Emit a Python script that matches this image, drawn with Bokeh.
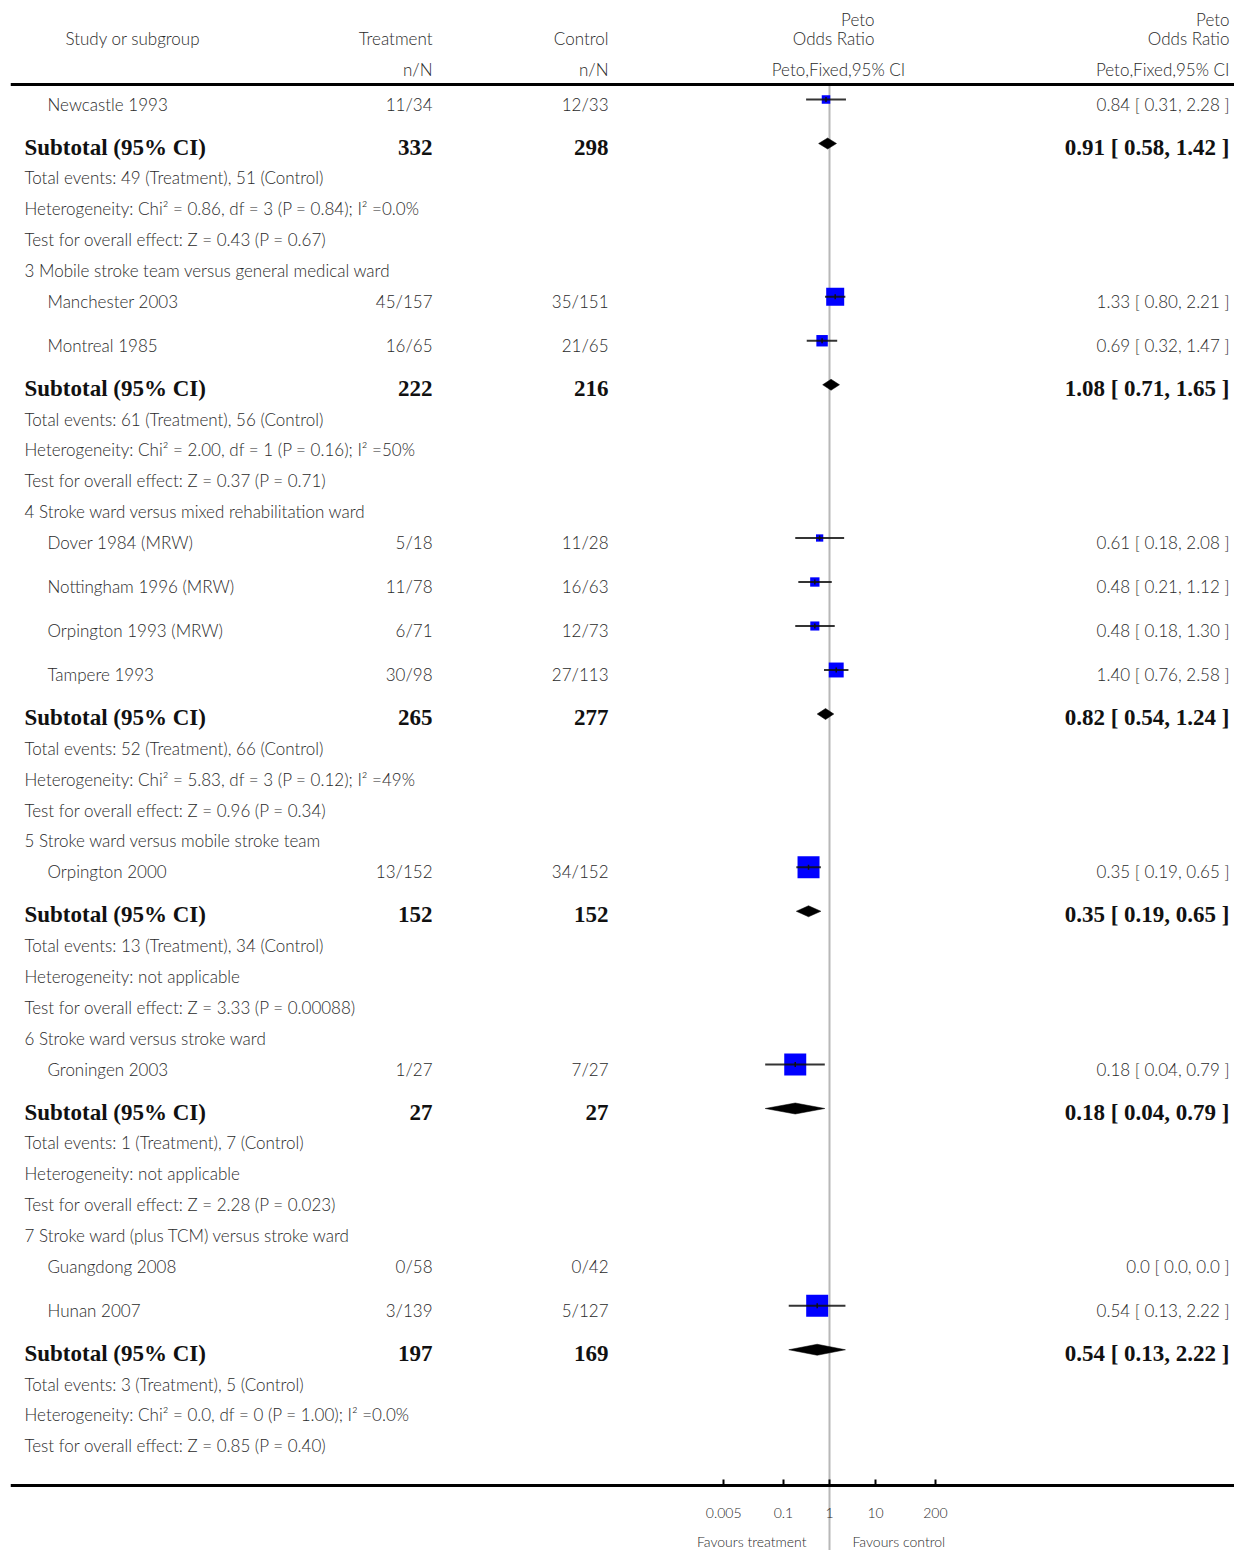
import numpy as np
from bokeh.plotting import figure
from bokeh.models import (Range1d, LogScale, LogAxis, FixedTicker, ColumnDataSource, Span)
from bokeh.core.properties import value
from bokeh.embed import file_html
from bokeh.resources import INLINE

# ---- individual studies -----------------------------------------------------
study_names = ["Newcastle 1993", "Manchester 2003", "Montreal 1985", "Dover 1984 (MRW)",
               "Nottingham 1996 (MRW)", "Orpington 1993 (MRW)", "Tampere 1993",
               "Orpington 2000", "Groningen 2003", "Guangdong 2008", "Hunan 2007"]
study_group = [2, 3, 3, 4, 4, 4, 4, 5, 6, 7, 7]
study_treatment = ["11/34", "45/157", "16/65", "5/18", "11/78", "6/71", "30/98",
                   "13/152", "1/27", "0/58", "3/139"]
study_control = ["12/33", "35/151", "21/65", "11/28", "16/63", "12/73", "27/113",
                 "34/152", "7/27", "0/42", "5/127"]
study_or = [0.84, 1.33, 0.69, 0.61, 0.48, 0.48, 1.40, 0.35, 0.18, 0.0, 0.54]
study_lo = [0.31, 0.80, 0.32, 0.18, 0.21, 0.18, 0.76, 0.19, 0.04, 0.0, 0.13]
study_hi = [2.28, 2.21, 1.47, 2.08, 1.12, 1.30, 2.58, 0.65, 0.79, 0.0, 2.22]
study_weight = [15, 67, 27, 11, 18, 17, 46, 100, 100, 0, 100]   # % within subgroup

# ---- subgroups -----------------------------------------------------------------
group_ids = [2, 3, 4, 5, 6, 7]
group_titles = ["",
                "3 Mobile stroke team versus general medical ward",
                "4 Stroke ward versus mixed rehabilitation ward",
                "5 Stroke ward versus mobile stroke team",
                "6 Stroke ward versus stroke ward",
                "7 Stroke ward (plus TCM) versus stroke ward"]
group_treatment_total = [332, 222, 265, 152, 27, 197]
group_control_total = [298, 216, 277, 152, 27, 169]
group_or = [0.91, 1.08, 0.82, 0.35, 0.18, 0.54]
group_lo = [0.58, 0.71, 0.54, 0.19, 0.04, 0.13]
group_hi = [1.42, 1.65, 1.24, 0.65, 0.79, 2.22]
group_events = ["Total events: 49 (Treatment), 51 (Control)",
                "Total events: 61 (Treatment), 56 (Control)",
                "Total events: 52 (Treatment), 66 (Control)",
                "Total events: 13 (Treatment), 34 (Control)",
                "Total events: 1 (Treatment), 7 (Control)",
                "Total events: 3 (Treatment), 5 (Control)"]
group_heterogeneity = ["Heterogeneity: Chi² = 0.86, df = 3 (P = 0.84); I² =0.0%",
                       "Heterogeneity: Chi² = 2.00, df = 1 (P = 0.16); I² =50%",
                       "Heterogeneity: Chi² = 5.83, df = 3 (P = 0.12); I² =49%",
                       "Heterogeneity: not applicable",
                       "Heterogeneity: not applicable",
                       "Heterogeneity: Chi² = 0.0, df = 0 (P = 1.00); I² =0.0%"]
group_overall = ["Test for overall effect: Z = 0.43 (P = 0.67)",
                 "Test for overall effect: Z = 0.37 (P = 0.71)",
                 "Test for overall effect: Z = 0.96 (P = 0.34)",
                 "Test for overall effect: Z = 3.33 (P = 0.00088)",
                 "Test for overall effect: Z = 2.28 (P = 0.023)",
                 "Test for overall effect: Z = 0.85 (P = 0.40)"]

# ---- axis ----------------------------------------------------------------------
axis_ticks = [0.005, 0.1, 1, 10, 200]
axis_tick_labels = ["0.005", "0.1", "1", "10", "200"]
favours_left, favours_right = "Favours treatment", "Favours control"

# ---- page geometry -------------------------------------------------------------
W, H = 1234, 1550
LEFT = 10
AXIS_Y = 1485
TOP_RULE = 84
REF_PX, DECADE_PX = 829, 46
X_GROUP, X_STUDY, X_TREAT, X_CTRL, X_EST = 24, 47, 432, 608, 1229

BODY_FAMILY = "Lato Light, Lato"
BODY_FONT = value(BODY_FAMILY)
BOLD_FONT = value("Liberation Serif")
BODY_COLOR = "#2a2a2a"
BODY_SHIFT = -0.5      # baseline relative to a row's centre line
BOLD_SHIFT = -0.5


def fmt(v):
    return "0.0" if v == 0 else f"{v:.2f}"


def est_text(o, lo, hi):
    return f"{fmt(o)} [ {fmt(lo)}, {fmt(hi)} ]"


# row sequence
rows = []
for gi, g in enumerate(group_ids):
    if group_titles[gi]:
        rows.append(("heading", gi))
    for si, sg in enumerate(study_group):
        if sg == g:
            rows.append(("study", si))
    rows += [("subtotal", gi), ("events", gi), ("het", gi), ("test", gi)]

row_y = []
y, prev = 104.0, None
for kind, _ in rows:
    if prev is not None:
        if prev == "study" and kind == "study":
            y += 44
        elif prev == "study" and kind == "subtotal":
            y += 43
        else:
            y += 30.85
    row_y.append(y)
    prev = kind

body = dict(x=[], y=[], text=[], align=[])
bold = dict(x=[], y=[], text=[], align=[])


def put(d, x, y, t, a):
    d["x"].append(x); d["y"].append(y); d["text"].append(t); d["align"].append(a)


# header
put(body, 65, 38, "Study or subgroup", "left")
put(body, X_TREAT, 38, "Treatment", "right")
put(body, X_CTRL, 38, "Control", "right")
put(body, 874, 19, "Peto", "right")
put(body, 874, 38, "Odds Ratio", "right")
put(body, X_EST, 19, "Peto", "right")
put(body, X_EST, 38, "Odds Ratio", "right")
put(body, X_TREAT, 69, "n/N", "right")
put(body, X_CTRL, 69, "n/N", "right")
put(body, 838, 69, "Peto,Fixed,95% CI", "center")
put(body, X_EST, 69, "Peto,Fixed,95% CI", "right")

box = dict(x=[], y=[], size=[])
ci = dict(x0=[], x1=[], y=[])
dia_xs, dia_ys = [], []

for (kind, i), yc in zip(rows, row_y):
    base = yc + BODY_SHIFT
    if kind == "heading":
        put(body, X_GROUP, base, group_titles[i], "left")
    elif kind == "study":
        put(body, X_STUDY, base, study_names[i], "left")
        put(body, X_TREAT, base, study_treatment[i], "right")
        put(body, X_CTRL, base, study_control[i], "right")
        put(body, X_EST, base, est_text(study_or[i], study_lo[i], study_hi[i]), "right")
        if study_or[i] > 0:
            box["x"].append(study_or[i]); box["y"].append(yc - 5)
            box["size"].append(22 * np.sqrt(study_weight[i] / 100))
            ci["x0"].append(study_lo[i]); ci["x1"].append(study_hi[i]); ci["y"].append(yc - 5)
    elif kind == "subtotal":
        b = yc + BOLD_SHIFT
        put(bold, X_GROUP, b, "Subtotal (95% CI)", "left")
        put(bold, X_TREAT, b, str(group_treatment_total[i]), "right")
        put(bold, X_CTRL, b, str(group_control_total[i]), "right")
        put(bold, X_EST, b, est_text(group_or[i], group_lo[i], group_hi[i]), "right")
        dy = yc - 4
        dia_xs.append([group_lo[i], group_or[i], group_hi[i], group_or[i]])
        dia_ys.append([dy, dy - 5.5, dy, dy + 5.5])
    elif kind == "events":
        put(body, X_GROUP, base, group_events[i], "left")
    elif kind == "het":
        put(body, X_GROUP, base, group_heterogeneity[i], "left")
    elif kind == "test":
        put(body, X_GROUP, base, group_overall[i], "left")

p = figure(width=W, height=H, output_backend="svg", toolbar_location=None,
           x_range=Range1d(LEFT, W), y_range=Range1d(H, 0),
           x_axis_type=None, y_axis_type=None,
           min_border_left=LEFT, min_border_right=0, min_border_top=0,
           min_border_bottom=0)
p.outline_line_color = None
p.background_fill_color = "white"
p.border_fill_color = "white"

p.extra_x_ranges = {"or": Range1d(10 ** ((LEFT - REF_PX) / DECADE_PX),
                                  10 ** ((W - REF_PX) / DECADE_PX))}
p.extra_x_scales = {"or": LogScale()}

# line of no effect
p.segment(x0=[1], x1=[1], y0=[TOP_RULE + 1], y1=[H], x_range_name="or",
          line_color="#b8b8b8", line_width=2)

# rule under the header
p.add_layout(Span(location=TOP_RULE, dimension="width", line_color="black", line_width=3))

# study boxes and confidence intervals
p.scatter(x="x", y="y", size="size", marker="square", source=ColumnDataSource(box),
          x_range_name="or", fill_color="#0000ff", line_color=None)
p.segment(x0="x0", x1="x1", y0="y", y1="y", source=ColumnDataSource(ci),
          x_range_name="or", line_color="#111111", line_width=2, line_alpha=0.85)
p.scatter(x="x", y="y", source=ColumnDataSource(box), marker="dash", angle=np.pi / 2,
          size=5, x_range_name="or", line_color="#111111", line_width=1.5)

# subgroup diamonds
p.patches(xs=dia_xs, ys=dia_ys, x_range_name="or", fill_color="black", line_color="black",
          line_width=0.5)

# table text
p.text(x="x", y="y", text="text", text_align="align", source=ColumnDataSource(body),
       text_font=BODY_FONT, text_font_size="17px", text_color=BODY_COLOR,
       text_baseline="alphabetic")
p.text(x="x", y="y", text="text", text_align="align", source=ColumnDataSource(bold),
       text_font=BOLD_FONT, text_font_size="23px", text_font_style="bold",
       text_color="#111111", text_baseline="alphabetic")

# odds-ratio axis, drawn across the bottom of the table
ax = LogAxis(x_range_name="or", ticker=FixedTicker(ticks=axis_ticks),
             major_label_overrides=dict(zip(axis_ticks, axis_tick_labels)),
             fixed_location=AXIS_Y)
ax.axis_line_width = 3
ax.axis_line_color = "black"
ax.major_tick_in = 6
ax.major_tick_out = 0
ax.major_tick_line_width = 2
ax.minor_tick_line_color = None
ax.major_label_standoff = 22
ax.major_label_text_font = BODY_FAMILY
ax.major_label_text_font_size = "14px"
ax.major_label_text_color = BODY_COLOR
p.add_layout(ax, "below")

# direction labels either side of the line of no effect
p.text(x=[1], y=[1541], text=[favours_left], x_range_name="or", x_offset=-23,
       text_align="right", text_baseline="alphabetic", text_font=BODY_FONT,
       text_font_size="14px", text_color=BODY_COLOR)
p.text(x=[1], y=[1541], text=[favours_right], x_range_name="or", x_offset=23,
       text_align="left", text_baseline="alphabetic", text_font=BODY_FONT,
       text_font_size="14px", text_color=BODY_COLOR)

open("out.html", "w").write(file_html(p, INLINE))
